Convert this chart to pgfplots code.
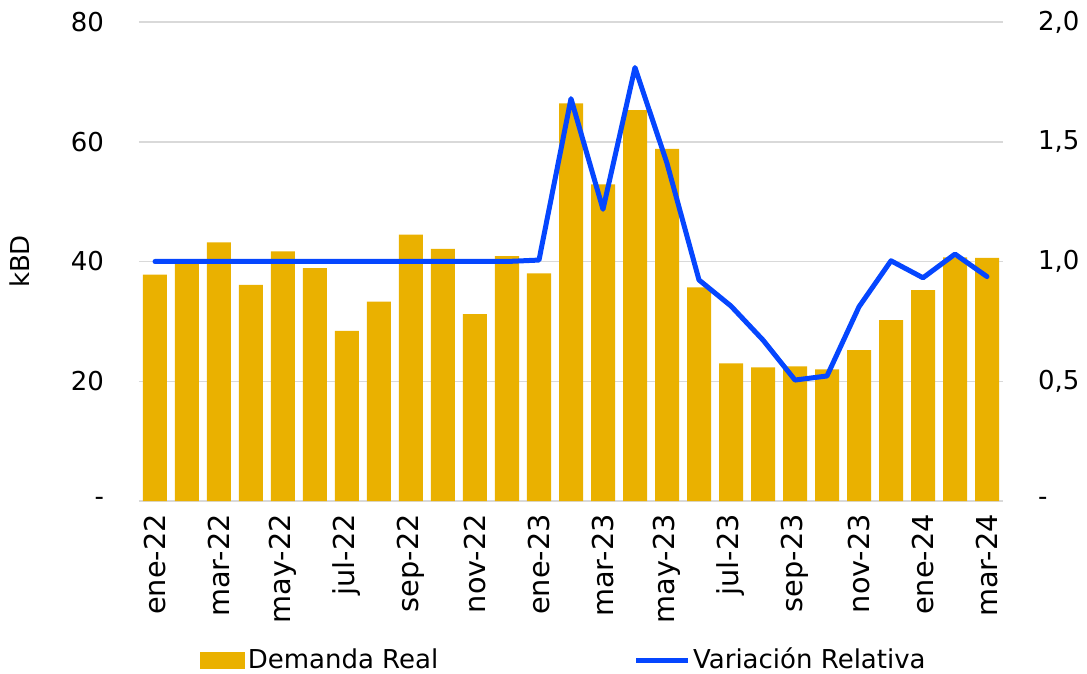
\documentclass[border=0pt]{standalone}
\usepackage{fontspec}
\setmainfont{DejaVu Sans}
\usepackage{pgfplots}
\pgfplotsset{compat=1.18}
\definecolor{barc}{RGB}{234,177,0}
\definecolor{linec}{RGB}{5,70,255}
\definecolor{gridc}{RGB}{217,217,217}
\pgfplotsset{every axis/.append style={font=\fontsize{13bp}{15.6bp}\selectfont, /pgf/number format/assume math mode=true}}
\begin{document}
\begin{tikzpicture}
\useasboundingbox (-69.5bp,-86.5bp) rectangle (474bp,250.5bp);
\begin{axis}[
  at={(0,0)}, anchor=south west,
  scale only axis, width=432bp, height=239.5bp,
  xmin=-0.5, xmax=26.5, ymin=0, ymax=80,
  axis x line*=bottom, axis y line*=left,
  x axis line style={draw=gridc, line width=0.75bp, -},
  y axis line style={draw=none},
  xtick={0,2,4,6,8,10,12,14,16,18,20,22,24,26},
  xticklabels={ene-22,mar-22,may-22,jul-22,sep-22,nov-22,ene-23,mar-23,may-23,jul-23,sep-23,nov-23,ene-24,mar-24},
  xtick style={draw=none},
  xticklabel style={rotate=90, anchor=east, xshift=-3bp, font=\fontsize{14.4bp}{17bp}\selectfont},
  extra x ticks={-0.5,1.5,3.5,5.5,7.5,9.5,11.5,13.5,15.5,17.5,19.5,21.5,23.5,25.5},
  extra x tick labels={},
  extra x tick style={tick style={draw=gridc, line width=0.75bp}, major tick length=4bp, tick align=outside},
  ytick={0,20,40,60,80},
  yticklabels={-,20,40,60,80},
  ytick style={draw=none},
  yticklabel style={xshift=-14bp},
  ymajorgrids, grid style={draw=gridc, line width=0.75bp},
  ylabel={kBD},
  ylabel style={at={(axis description cs:-0.119,0.5)}, anchor=south},
  legend columns=2,
  legend style={draw=none, fill=none, at={(rel axis cs:0,0)}, anchor=west, xshift=30.5bp, yshift=-79.5bp,
    inner sep=0pt, nodes={inner sep=1.2bp},
    /tikz/every even column/.append style={column sep=96.5bp}},
]
\addplot[ybar, bar width=12bp, fill=barc, draw=none,
  legend image code/.code={\fill[barc] (0bp,-4.25bp) rectangle (22.5bp,4.25bp);}]
coordinates {(0,37.8) (1,39.8) (2,43.2) (3,36.1) (4,41.7) (5,38.9) (6,28.4) (7,33.3) (8,44.5) (9,42.1) (10,31.2) (11,40.9) (12,38.0) (13,66.4) (14,52.9) (15,65.3) (16,58.8) (17,35.7) (18,23.0) (19,22.3) (20,22.5) (21,22.0) (22,25.2) (23,30.2) (24,35.2) (25,40.7) (26,40.6)};
\addlegendentry{Demanda Real}
\addlegendimage{legend image code/.code={\draw[linec, line width=2.5bp] (0bp,0bp) -- (26bp,0bp);}}
\addlegendentry{Variación Relativa}
\end{axis}
\begin{axis}[
  at={(0,0)}, anchor=south west,
  scale only axis, width=432bp, height=239.5bp,
  xmin=-0.5, xmax=26.5, ymin=0, ymax=2,
  axis x line=none, axis y line*=right,
  y axis line style={draw=none},
  ytick={0,0.5,1,1.5,2},
  yticklabels={-,{0,5},{1,0},{1,5},{2,0}},
  ytick style={draw=none},
  yticklabel style={anchor=west, xshift=14bp},
]
\addplot[linec, line width=2.5bp, line join=round, line cap=round]
coordinates {(0,1.0) (1,1.0) (2,1.0) (3,1.0) (4,1.0) (5,1.0) (6,1.0) (7,1.0) (8,1.0) (9,1.0) (10,1.0) (11,1.0) (12,1.006) (13,1.68) (14,1.218) (15,1.81) (16,1.41) (17,0.923) (18,0.814) (19,0.672) (20,0.505) (21,0.522) (22,0.811) (23,1.003) (24,0.932) (25,1.031) (26,0.937)};
\end{axis}
\end{tikzpicture}
\end{document}
